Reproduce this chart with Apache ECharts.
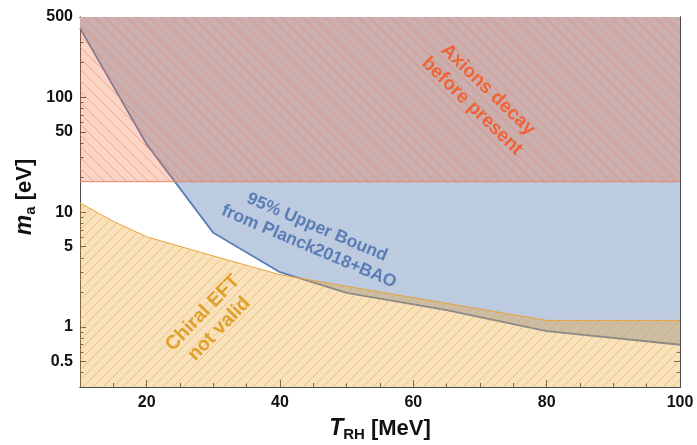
<!DOCTYPE html>
<html>
<head>
<meta charset="utf-8">
<script src="https://cdn.jsdelivr.net/npm/echarts@6/dist/echarts.min.js"></script>
<style>
html,body{margin:0;padding:0;background:#fff;}
#chart{width:697px;height:445px;}
</style>
</head>
<body>
<div id="chart"></div>
<script>
// ---- data ----
const planckT  = [10, 20, 30, 40, 50, 65, 80, 100];
const planckMa = [400, 39, 6.6, 3.0, 1.98, 1.4, 0.92, 0.7];

const chiralT  = [10, 15, 20, 30, 40, 50, 80, 100];
const chiralMa = [12, 8.3, 6.1, 4.15, 2.85, 2.26, 1.14, 1.14];

const decayT  = [10, 100];
const decayMa = [18.4, 18.4];

const xMajorTicks = [20, 40, 60, 80, 100];
const xMinorTicks = [15, 25, 30, 35, 45, 50, 55, 65, 70, 75, 85, 90, 95];
const yMajorTicks = [0.5, 1, 5, 10, 50, 100, 500];
const yMinorTicks = [0.3, 0.4, 0.6, 0.7, 0.8, 0.9, 2, 3, 4, 6, 7, 8, 9, 20, 30, 40, 60, 70, 80, 90, 200, 300, 400];
const yMin = 0.3, yMax = 500, xMin = 10, xMax = 100;

// ---- helpers ----
const L = v => Math.log10(v);
const pairs = (xs, ys) => xs.map((x, i) => [x, L(ys[i])]);

function hatch(bg, line, dir, size, lw) {
  const c = document.createElement('canvas');
  c.width = c.height = size;
  const ctx = c.getContext('2d');
  ctx.fillStyle = bg; ctx.fillRect(0, 0, size, size);
  ctx.strokeStyle = line; ctx.lineWidth = lw;
  ctx.beginPath();
  if (dir === '/') {
    ctx.moveTo(-2, size + 2); ctx.lineTo(size + 2, -2);
    ctx.moveTo(-2, 2); ctx.lineTo(2, -2);
    ctx.moveTo(size - 2, size + 2); ctx.lineTo(size + 2, size - 2);
  } else {
    ctx.moveTo(-2, -2); ctx.lineTo(size + 2, size + 2);
    ctx.moveTo(size - 2, -2); ctx.lineTo(size + 2, 2);
    ctx.moveTo(-2, size - 2); ctx.lineTo(2, size + 2);
  }
  ctx.stroke();
  return c;
}

const FONT = '"Liberation Sans", Arial, Helvetica, sans-serif';
const AX = '#4a4a4a';

function xAxisDef(pos, ticks, len, labels) {
  return {
    type: 'value', min: xMin, max: xMax, position: pos,
    axisLine: { show: true, onZero: false, lineStyle: { color: AX, width: 1 } },
    axisTick: { show: true, inside: true, length: len, customValues: ticks, lineStyle: { color: AX, width: 1 } },
    axisLabel: labels ? { show: true, customValues: ticks, margin: 8, color: '#111', fontSize: 16, fontWeight: 'bold', fontFamily: FONT } : { show: false },
    splitLine: { show: false }
  };
}
function yAxisDef(pos, ticks, len, labels) {
  return {
    type: 'value', min: L(yMin), max: L(yMax), position: pos,
    axisLine: { show: true, onZero: false, lineStyle: { color: AX, width: 1 } },
    axisTick: { show: true, inside: true, length: len, customValues: ticks.map(L), lineStyle: { color: AX, width: 1 } },
    axisLabel: labels ? {
      show: true, customValues: ticks.map(L), margin: 7, color: '#111', fontSize: 16, fontWeight: 'bold', fontFamily: FONT,
      formatter: v => String(+Math.pow(10, v).toPrecision(2))
    } : { show: false },
    splitLine: { show: false }
  };
}

const chart = echarts.init(document.getElementById('chart'));

const decayPattern  = hatch('rgba(240,112,62,0.30)', 'rgba(238,118,84,0.48)', '\\', 11, 1);
const chiralPattern = hatch('rgba(236,162,42,0.32)', 'rgba(224,164,52,0.50)', '/', 10, 1);

chart.setOption({
  animation: false,
  grid: { left: 80, right: 17, top: 17, bottom: 58 },
  xAxis: [
    xAxisDef('bottom', xMajorTicks, 7, true),
    xAxisDef('bottom', xMinorTicks, 4, false),
    xAxisDef('top', xMajorTicks, 7, false),
    xAxisDef('top', xMinorTicks, 4, false)
  ],
  yAxis: [
    yAxisDef('left', yMajorTicks, 6, true),
    yAxisDef('left', yMinorTicks, 3.5, false),
    yAxisDef('right', yMajorTicks, 6, false),
    yAxisDef('right', yMinorTicks, 3.5, false)
  ],
  series: [
    {
      name: 'Planck', type: 'line', data: pairs(planckT, planckMa),
      symbol: 'none', smooth: false,
      lineStyle: { color: '#5a7db6', width: 1.8 },
      areaStyle: { color: '#bccbe0', opacity: 1, origin: 'end' },
      z: 2
    },
    {
      name: 'Chiral', type: 'line', data: pairs(chiralT, chiralMa),
      symbol: 'none', smooth: false,
      lineStyle: { color: '#e6a33c', width: 1 },
      areaStyle: { color: { image: chiralPattern, repeat: 'repeat' }, opacity: 1, origin: 'start' },
      z: 3
    },
    {
      name: 'Decay', type: 'line', data: pairs(decayT, decayMa),
      symbol: 'none', smooth: false,
      lineStyle: { color: '#ea8468', width: 1 },
      areaStyle: { color: { image: decayPattern, repeat: 'repeat' }, opacity: 1, origin: 'end' },
      z: 4
    }
  ],
  graphic: [
    {
      type: 'text', x: 480, y: 98, rotation: -44 * Math.PI / 180, z: 100,
      style: { text: 'Axions decay\nbefore present', align: 'center', verticalAlign: 'middle',
        font: 'bold 19px ' + FONT, fill: '#ee6438', lineHeight: 23 }
    },
    {
      type: 'text', x: 313, y: 237, rotation: -23 * Math.PI / 180, z: 100,
      style: { text: '95% Upper Bound\nfrom Planck2018+BAO', align: 'center', verticalAlign: 'middle',
        font: 'bold 17.5px ' + FONT, fill: '#5b7db5', lineHeight: 21 }
    },
    {
      type: 'text', x: 211, y: 321, rotation: 46 * Math.PI / 180, z: 100,
      style: { text: 'Chiral EFT\nnot valid', align: 'center', verticalAlign: 'middle',
        font: 'bold 19.5px ' + FONT, fill: '#e0a02c', lineHeight: 23 }
    },
    {
      type: 'text', x: 380, y: 429, z: 100,
      style: {
        text: '{i|T}{s|RH}{n| [MeV]}', align: 'center', verticalAlign: 'middle',
        rich: {
          i: { font: 'italic bold 23px ' + FONT, fill: '#111', lineHeight: 26, verticalAlign: 'middle' },
          s: { font: 'bold 15px ' + FONT, fill: '#111', lineHeight: 15, verticalAlign: 'bottom' },
          n: { font: 'bold 22px ' + FONT, fill: '#111', lineHeight: 26, verticalAlign: 'middle' }
        }
      }
    },
    {
      type: 'text', x: 25, y: 197, rotation: Math.PI / 2, z: 100,
      style: {
        text: '{i|m}{s|a}{n| [eV]}', align: 'center', verticalAlign: 'middle',
        rich: {
          i: { font: 'italic bold 23px ' + FONT, fill: '#111', lineHeight: 26, verticalAlign: 'middle' },
          s: { font: 'bold 15px ' + FONT, fill: '#111', lineHeight: 15, verticalAlign: 'bottom' },
          n: { font: 'bold 22px ' + FONT, fill: '#111', lineHeight: 26, verticalAlign: 'middle' }
        }
      }
    }
  ]
});
</script>
</body>
</html>
